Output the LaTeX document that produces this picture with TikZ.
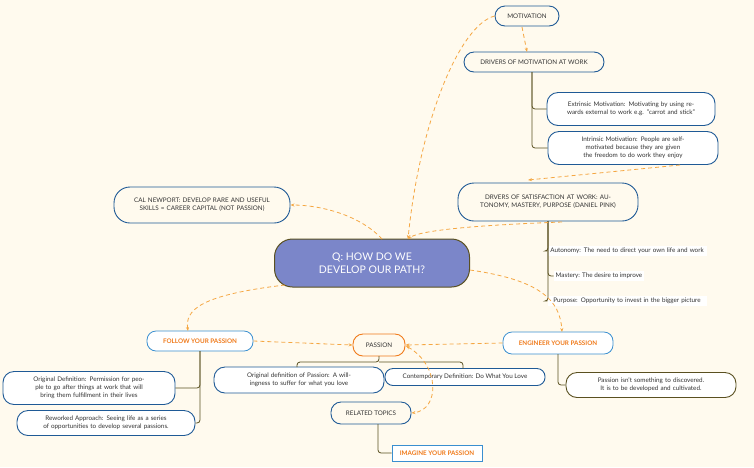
\documentclass[tikz,border=0pt]{standalone}
\usepackage{fontspec}
\setmainfont{Lato}
\usetikzlibrary{arrows.meta}
\definecolor{bg}{HTML}{FFFAEE}
\definecolor{bl}{HTML}{1F5A96}
\definecolor{lb}{HTML}{3A8FD0}
\definecolor{ol}{HTML}{5A5020}
\definecolor{og}{HTML}{F5A742}
\definecolor{ot}{HTML}{F07A1A}
\definecolor{cen}{HTML}{7B86C9}
\definecolor{tx}{HTML}{333333}
\begin{document}
\begin{tikzpicture}[x=1pt,y=-1pt,
 box/.style={draw=bl,line width=0.9pt,rounded corners=11pt,fill=white,align=center,font=\fontsize{6.3}{8}\selectfont,text=tx,inner sep=2pt},
 hdr/.style={draw=bl,line width=0.9pt,rounded corners=10pt,fill=bg,align=center,font=\fontsize{6.3}{8}\selectfont,text=tx},
 plain/.style={fill=white,align=center,font=\fontsize{6.3}{8}\selectfont,text=tx,inner sep=2pt},
 orb/.style={draw=lb,line width=0.8pt,rounded corners=9pt,fill=white,font=\bfseries\fontsize{6.3}{8}\selectfont,text=ot},
 tree/.style={draw=ol,line width=0.8pt},
 dline/.style={draw=og,line width=0.8pt,dash pattern=on 4pt off 3pt,-{Stealth[length=4pt]}}]
\fill[bg] (0,0) rectangle (754,467);
\useasboundingbox (0,0) rectangle (754,467);
\node[hdr,minimum width=64pt,minimum height=20pt] (mot) at (527,16) {MOTIVATION};
\node[hdr,minimum width=140pt,minimum height=20pt] (dmw) at (534,62) {DRIVERS OF MOTIVATION AT WORK};
\node[box,minimum width=168pt,minimum height=33pt,text width=150pt] (ext) at (631,109) {Extrinsic Motivation: Motivating by using rewards external to work e.g. "carrot and stick"};
\node[box,minimum width=170pt,minimum height=33pt,text width=130pt] (int) at (633,148) {Intrinsic Motivation: People are self-motivated because they are given the freedom to do work they enjoy};
\node[box,fill=bg,minimum width=180pt,minimum height=38pt,text width=150pt,rounded corners=16pt] (dsw) at (548,202) {DRVERS OF SATISFACTION AT WORK: AUTONOMY, MASTERY, PURPOSE (DANIEL PINK)};
\node[plain,text width=155pt] (aut) at (627,251) {Autonomy: The need to direct your own life and work};
\node[plain] (mas) at (599,276) {Mastery: The desire to improve};
\node[plain,text width=155pt] (pur) at (627,301) {Purpose: Opportunity to invest in the bigger picture};
\node[draw=ol,line width=1pt,fill=cen,rounded corners=18pt,minimum width=195pt,minimum height=48pt,align=center,text=white,font=\fontsize{10.5}{13}\selectfont] (q) at (372,263) {Q: HOW DO WE\\DEVELOP OUR PATH?};
\node[box,fill=bg,minimum width=176pt,minimum height=36pt,text width=150pt,rounded corners=16pt] (cal) at (202,205) {CAL NEWPORT: DEVELOP RARE AND USEFUL SKILLS = CAREER CAPITAL (NOT PASSION)};
\node[orb,minimum width=106pt,minimum height=20pt] (fol) at (200,341) {FOLLOW YOUR PASSION};
\node[hdr,draw=ot,minimum width=52pt,minimum height=22pt] (pas) at (379,345) {PASSION};
\node[orb,minimum width=110pt,minimum height=22pt] (eng) at (558,343) {ENGINEER YOUR PASSION};
\node[box,minimum width=170pt,minimum height=26pt,text width=150pt] (odp) at (299,380) {Original definition of Passion: A willingness to suffer for what you love};
\node[box,minimum width=160pt,minimum height=17pt,rounded corners=8pt] (con) at (465,377) {Contemporary Definition: Do What You Love};
\node[box,minimum width=172pt,minimum height=33pt,text width=155pt] (od) at (89,388) {Original Definition: Permission for people to go after things at work that will bring them fulfillment in their lives};
\node[box,minimum width=178pt,minimum height=25pt,text width=160pt] (rw) at (106,423) {Reworked Approach: Seeing life as a series of opportunities to develop several passions.};
\node[box,draw=ol,minimum width=170pt,minimum height=25pt,text width=150pt] (pi) at (651,385) {Passion isn't something to discovered. It is to be developed and cultivated.};
\node[hdr,minimum width=80pt,minimum height=22pt] (rel) at (371,413) {RELATED TOPICS};
\node[orb,rounded corners=0pt,minimum width=90pt,minimum height=16pt] (img) at (437,453) {IMAGINE YOUR PASSION};
% trees
\draw[tree,rounded corners=3pt] (532,72) |- (ext.west);
\draw[tree,rounded corners=3pt] (532,72) |- (int.west);
\draw[tree,rounded corners=3pt] (548,221) |- (aut.west);
\draw[tree,rounded corners=3pt] (548,221) |- (mas.west);
\draw[tree,rounded corners=3pt] (548,221) |- (pur.west);
\draw[tree,rounded corners=3pt] (200,351) |- (od.east);
\draw[tree,rounded corners=3pt] (200,351) |- (rw.east);
\draw[tree,rounded corners=3pt] (379,356) -- (379,362) -| (297,367);
\draw[tree,rounded corners=3pt] (379,362) -| (463,368.5);
\draw[tree,rounded corners=3pt] (558,354) |- (pi.west);
\draw[tree,rounded corners=3pt] (378,424) |- (img.west);
% dashed
\draw[dline] (mot.west) .. controls (460,25) and (420,120) .. (408,239);
\draw[dline] (522,27) -- (527,52);
\draw[dline] (680,165) -- (528,180);
\draw[dline] (562,222) .. controls (480,225) and (420,230) .. (408,239);
\draw[dline] (382,239) .. controls (360,215) and (320,205) .. (cal.east);
\draw[dline] (285,285) .. controls (200,295) and (185,310) .. (188,331);
\draw[dline] (470,270) .. controls (540,280) and (560,300) .. (562,332);
\draw[dline] (fol.east) -- (pas.west);
\draw[dline] (eng.west) -- (pas.east);
\draw[dline,{Stealth[length=4pt]}-{Stealth[length=4pt]}] (406,346) .. controls (440,365) and (440,410) .. (rel.east);
\end{tikzpicture}
\end{document}
